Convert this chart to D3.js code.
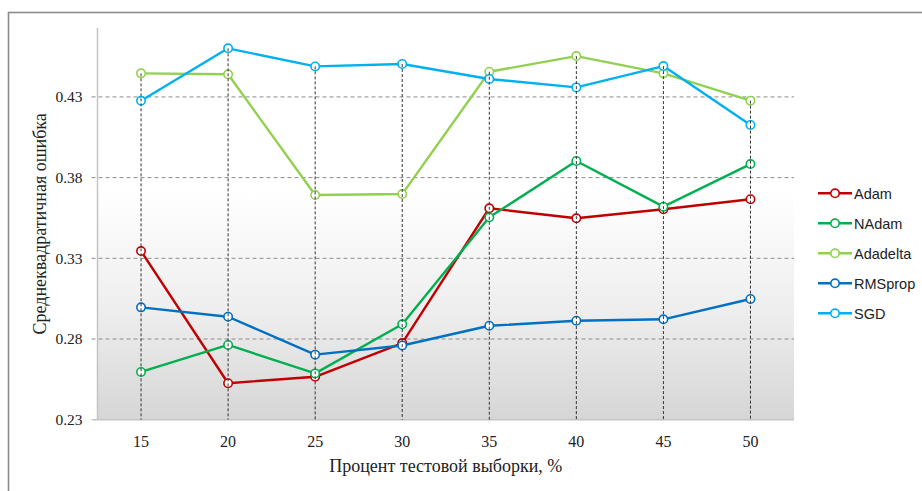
<!DOCTYPE html>
<html>
<head>
<meta charset="utf-8">
<script src="https://cdn.jsdelivr.net/npm/d3@7"></script>
<style>
  html, body { margin: 0; padding: 0; background: #fff; }
  svg { display: block; }
</style>
</head>
<body>
<svg id="chart" width="922" height="491"></svg>
<script>
// Test-sample share, % (category axis)
const categories = ["15", "20", "25", "30", "35", "40", "45", "50"];

// RMSE per optimizer
const adam     = [0.3345, 0.2526, 0.2566, 0.2775, 0.3610, 0.3548, 0.3604, 0.3666];
const nadam    = [0.2596, 0.2763, 0.2587, 0.2891, 0.3554, 0.3903, 0.3620, 0.3884];
const adadelta = [0.4446, 0.4440, 0.3692, 0.3698, 0.4456, 0.4553, 0.4446, 0.4277];
const rmsprop  = [0.2996, 0.2938, 0.2703, 0.2760, 0.2882, 0.2913, 0.2922, 0.3048];
const sgd      = [0.4276, 0.4601, 0.4489, 0.4504, 0.4411, 0.4359, 0.4491, 0.4126];

const seriesNames  = ["Adam", "NAdam", "Adadelta", "RMSprop", "SGD"];
const seriesValues = [adam, nadam, adadelta, rmsprop, sgd];
const seriesColors = ["#c00000", "#00b050", "#92d050", "#0070c0", "#00b0f0"];

const yTicks = [0.23, 0.28, 0.33, 0.38, 0.43];
const yMin = 0.23, yMax = 0.4727;

const xTitle = "Процент тестовой выборки, %";
const yTitle = "Среднеквадратичная ошибка";

const svg = d3.select("#chart");
const plot = { left: 97.5, right: 794, top: 28, bottom: 419.7 };

const x = d3.scaleBand().domain(categories).range([plot.left, plot.right]).padding(0);
const xc = c => x(c) + x.bandwidth() / 2;
const y = d3.scaleLinear().domain([yMin, yMax]).range([plot.bottom, plot.top]);

// Outer chart frame
svg.append("rect")
  .attr("x", 8.5).attr("y", 12.5).attr("width", 1000).attr("height", 1000)
  .attr("fill", "none").attr("stroke", "#8a8a8a").attr("stroke-width", 1.6);

// Plot-area gradient fill
const defs = svg.append("defs");
const grad = defs.append("linearGradient").attr("id", "plotFill")
  .attr("x1", 0).attr("y1", 0).attr("x2", 0).attr("y2", 1);
grad.append("stop").attr("offset", "0").attr("stop-color", "#ffffff");
grad.append("stop").attr("offset", "0.42").attr("stop-color", "#ffffff");
grad.append("stop").attr("offset", "0.72").attr("stop-color", "#eeeeee");
grad.append("stop").attr("offset", "1").attr("stop-color", "#d6d6d6");

svg.append("rect")
  .attr("x", plot.left).attr("y", plot.top)
  .attr("width", plot.right - plot.left).attr("height", plot.bottom - plot.top)
  .attr("fill", "url(#plotFill)");

// Horizontal dashed gridlines
svg.append("g").selectAll("line")
  .data(yTicks.filter(t => t > yMin))
  .join("line")
  .attr("x1", plot.left - 6).attr("x2", plot.right)
  .attr("y1", d => y(d)).attr("y2", d => y(d))
  .attr("stroke", "#8c8c8c").attr("stroke-width", 1)
  .attr("stroke-dasharray", "4,3");

// Axes lines
svg.append("line")
  .attr("x1", plot.left).attr("x2", plot.left)
  .attr("y1", plot.top).attr("y2", plot.bottom)
  .attr("stroke", "#c4c4c4").attr("stroke-width", 1.5);
svg.append("line")
  .attr("x1", plot.left - 6).attr("x2", plot.right)
  .attr("y1", plot.bottom).attr("y2", plot.bottom)
  .attr("stroke", "#c4c4c4").attr("stroke-width", 1.5);

// Y tick labels
const yAxis = d3.axisLeft(y).tickValues(yTicks).tickFormat(d3.format(".2f")).tickSize(0).tickPadding(15);
const gy = svg.append("g").attr("transform", `translate(${plot.left},0)`).call(yAxis);
gy.select(".domain").remove();
gy.selectAll("text")
  .attr("font-family", "'Liberation Serif', 'Times New Roman', serif")
  .attr("font-size", 15.5).attr("fill", "#222");

// X tick labels
const xAxis = d3.axisBottom(x).tickSize(0).tickPadding(0);
const gx = svg.append("g").attr("transform", `translate(0,${plot.bottom})`).call(xAxis);
gx.select(".domain").remove();
gx.selectAll("text")
  .attr("dy", null).attr("y", 27)
  .attr("font-family", "'Liberation Serif', 'Times New Roman', serif")
  .attr("font-size", 16).attr("fill", "#222");

// Axis titles
svg.append("text")
  .attr("x", (plot.left + plot.right) / 2).attr("y", 472)
  .attr("text-anchor", "middle")
  .attr("font-family", "'Liberation Serif', 'Times New Roman', serif")
  .attr("font-size", 18).attr("fill", "#222")
  .text(xTitle);
svg.append("text")
  .attr("transform", `translate(46,${(plot.top + plot.bottom) / 2}) rotate(-90)`)
  .attr("text-anchor", "middle")
  .attr("font-family", "'Liberation Serif', 'Times New Roman', serif")
  .attr("font-size", 18).attr("fill", "#222")
  .text(yTitle);

// Series lines and markers
const line = d3.line().x((d, i) => xc(categories[i])).y(d => y(d));
const seriesG = svg.append("g");
seriesValues.forEach((vals, s) => {
  seriesG.append("path")
    .attr("d", line(vals))
    .attr("fill", "none")
    .attr("stroke", seriesColors[s]).attr("stroke-width", 2.4)
    .attr("stroke-linejoin", "round");
});
seriesValues.forEach((vals, s) => {
  seriesG.append("g").selectAll("circle")
    .data(vals)
    .join("circle")
    .attr("cx", (d, i) => xc(categories[i]))
    .attr("cy", d => y(d))
    .attr("r", 4.2)
    .attr("fill", "#fff")
    .attr("stroke", seriesColors[s]).attr("stroke-width", 1.6);
});

// Drop lines from the highest point of each category to the axis
const tops = categories.map((c, i) => d3.max(seriesValues, v => v[i]));
svg.append("g").selectAll("line")
  .data(tops)
  .join("line")
  .attr("x1", (d, i) => xc(categories[i])).attr("x2", (d, i) => xc(categories[i]))
  .attr("y1", d => y(d)).attr("y2", plot.bottom)
  .attr("stroke", "#333").attr("stroke-width", 1)
  .attr("stroke-dasharray", "3,2");

// Legend
const legend = svg.append("g");
const legY0 = 193.3, legStep = 30;
seriesNames.forEach((name, s) => {
  const gy0 = legY0 + s * legStep;
  const g = legend.append("g");
  g.append("line")
    .attr("x1", 818).attr("x2", 852).attr("y1", gy0).attr("y2", gy0)
    .attr("stroke", seriesColors[s]).attr("stroke-width", 2.4);
  g.append("circle")
    .attr("cx", 835).attr("cy", gy0).attr("r", 4.2)
    .attr("fill", "#fff").attr("stroke", seriesColors[s]).attr("stroke-width", 1.6);
  g.append("text")
    .attr("x", 854).attr("y", gy0).attr("dy", "0.36em")
    .attr("font-family", "'Liberation Sans', Arial, sans-serif")
    .attr("font-size", 14.5).attr("fill", "#222")
    .text(name);
});
</script>
</body>
</html>
